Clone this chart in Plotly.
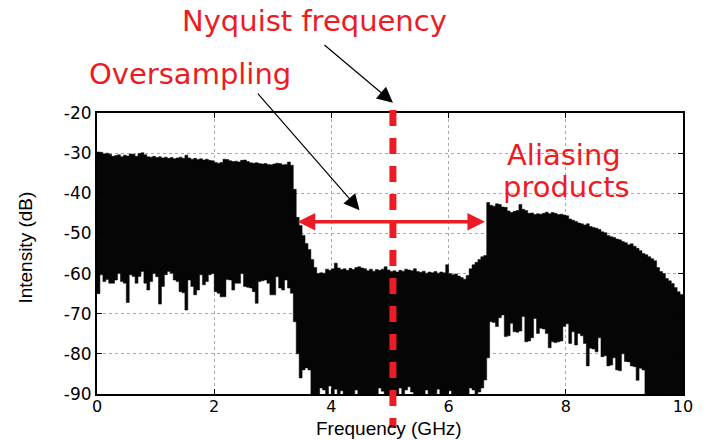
import plotly.graph_objects as go

freq_ghz = [round(0.05 * i, 2) for i in range(201)]

# upper envelope of the measured spectrum (dB)
upper_db = [
    -29.7, -29.8, -30.2, -30.0, -30.3, -30.8, -30.6, -30.4, -30.9, -30.5,
    -30.7, -30.2, -30.3, -30.8, -30.1, -29.9, -30.4, -30.9, -31.0, -30.8,
    -31.1, -30.9, -31.2, -31.0, -31.3, -31.1, -31.4, -31.2, -31.0, -31.3,
    -30.5, -31.2, -31.5, -31.3, -31.6, -31.4, -31.7, -31.5, -31.8, -31.9,
    -32.3, -32.5, -32.3, -31.5, -31.6, -31.9, -32.1, -32.0, -32.2, -31.8,
    -31.7, -32.1, -32.4, -32.5, -32.4, -32.6, -32.7, -32.6, -32.8, -32.9,
    -32.7, -32.5, -32.6, -32.9, -32.8, -32.2, -33.0, -39.0, -46.0, -48.0,
    -50.5, -52.5, -54.0, -56.5, -58.5, -60.0, -59.8, -59.9, -58.9, -59.2,
    -58.8, -57.4, -58.6, -59.0, -58.8, -59.2, -58.7, -59.0, -58.5, -58.3,
    -58.6, -58.8, -59.3, -58.9, -59.4, -59.0, -59.2, -58.9, -58.3, -59.1,
    -59.5, -59.3, -59.6, -59.2, -59.4, -58.9, -59.1, -59.3, -58.8, -59.5,
    -59.7, -59.4, -59.9, -59.6, -59.8, -59.5, -59.9, -59.6, -59.8, -57.8,
    -60.0, -60.3, -60.1, -60.6, -61.0, -61.4, -60.5, -58.8, -57.8, -57.2,
    -56.5, -55.8, -55.5, -42.3, -43.0, -43.2, -42.6, -42.8, -43.4, -43.5,
    -44.4, -44.8, -44.5, -44.3, -42.8, -44.0, -44.3, -45.0, -44.9, -45.3,
    -45.1, -45.2, -45.0, -44.7, -45.1, -44.8, -45.0, -45.3, -45.2, -45.4,
    -45.6, -46.4, -46.7, -47.0, -47.4, -47.6, -47.9, -47.6, -48.3, -48.5,
    -48.7, -49.0, -49.6, -49.8, -50.5, -50.8, -51.0, -51.4, -51.6, -52.0,
    -52.3, -52.8, -52.6, -53.2, -53.7, -54.3, -55.0, -55.3, -55.8, -56.3,
    -56.8, -58.5, -59.5, -60.0, -61.2, -61.8, -62.5, -63.5, -64.5, -65.2,
]

# lower envelope of the measured spectrum (dB); values below -90 run off the axis
lower_db = [
    -65.0, -60.3, -62.0, -61.5, -62.4, -62.4, -61.6, -60.0, -62.0, -62.4,
    -67.2, -60.3, -60.7, -62.4, -60.7, -59.5, -62.4, -64.1, -62.0, -60.0,
    -60.8, -67.6, -63.2, -60.3, -59.5, -59.9, -61.6, -62.0, -64.5, -64.8,
    -69.1, -61.6, -63.2, -65.3, -64.1, -60.3, -62.8, -62.0, -60.3, -60.0,
    -64.5, -64.9, -65.8, -65.8, -61.5, -61.6, -64.1, -62.4, -62.4, -60.0,
    -63.2, -63.4, -63.6, -64.5, -67.4, -62.0, -61.8, -61.6, -62.4, -65.3,
    -65.3, -60.8, -63.6, -64.1, -61.6, -63.6, -64.9, -72.0, -80.0, -86.0,
    -84.0, -83.5, -84.0, -95.0, -95.0, -95.0, -88.5, -89.0, -95.0, -88.0,
    -95.0, -88.8, -95.0, -89.2, -95.0, -95.0, -95.0, -95.0, -89.0, -95.0,
    -95.0, -95.0, -95.0, -95.0, -95.0, -95.0, -88.5, -89.3, -95.0, -95.0,
    -95.0, -95.0, -95.0, -88.5, -95.0, -89.0, -88.2, -89.5, -95.0, -95.0,
    -95.0, -95.0, -89.0, -95.0, -95.0, -95.0, -88.8, -95.0, -95.0, -95.0,
    -89.2, -95.0, -95.0, -95.0, -95.0, -95.0, -95.0, -88.5, -89.0, -95.0,
    -89.5, -88.5, -86.5, -81.0, -72.0, -72.2, -73.2, -71.0, -70.3, -75.7,
    -75.5, -72.4, -74.5, -74.6, -74.3, -70.7, -77.0, -76.8, -76.0, -71.2,
    -74.9, -73.6, -73.8, -74.9, -78.5, -77.0, -77.2, -77.0, -76.8, -73.2,
    -72.5, -77.4, -74.5, -77.8, -74.9, -75.5, -77.4, -83.0, -78.6, -78.8,
    -79.5, -76.0, -80.7, -80.5, -83.0, -82.8, -81.0, -84.0, -84.2, -80.0,
    -81.9, -82.0, -83.0, -83.2, -86.6, -83.6, -84.0, -95.0, -95.0, -95.0,
    -95.0, -95.0, -95.0, -95.0, -95.0, -95.0, -95.0, -95.0, -95.0, -95.0,
]

x_ticks = [0, 2, 4, 6, 8, 10]
y_ticks = [-90, -80, -70, -60, -50, -40, -30, -20]
x_ticktext = [str(v) for v in x_ticks]
y_ticktext = [str(v) for v in y_ticks]  # plain hyphen-minus like the original

nyquist_ghz = 5.05
arrow_db = -47.1
arrow_from_ghz, arrow_to_ghz = 3.40, 6.62
oversampling_tip = (4.48, -44.2)

RED = "#ec1c24"
FONT = "DejaVu Sans"

upper_plot = upper_db + [upper_db[-1]]
lower_plot = lower_db + [lower_db[-1]]

fig = go.Figure()
fig.add_trace(go.Scatter(x=freq_ghz, y=lower_plot, mode="lines",
                         line=dict(shape="hv", width=0.5, color="#050505"),
                         hoverinfo="skip"))
fig.add_trace(go.Scatter(x=freq_ghz, y=upper_plot, mode="lines",
                         line=dict(shape="hv", width=0.5, color="#050505"),
                         fill="tonexty", fillcolor="#050505", hoverinfo="skip"))

axis_common = dict(
    ticks="inside", ticklen=5, tickwidth=1, tickcolor="black",
    showline=True, linecolor="black", linewidth=2, mirror="ticks",
    showgrid=True, gridcolor="#a8a8a8", griddash="dot", gridwidth=1,
    zeroline=False,
)
fig.update_xaxes(range=[0, 10], tickvals=x_ticks, ticktext=x_ticktext,
                 tickfont=dict(family=FONT, size=16, color="black"),
                 ticklabelstandoff=-3, **axis_common)
fig.update_yaxes(range=[-90, -20], tickvals=y_ticks, ticktext=y_ticktext,
                 tickfont=dict(family=FONT, size=17, color="black"), **axis_common)

x_range = 10.0
fig.add_shape(type="line", xref="paper", yref="paper",
              x0=nyquist_ghz / x_range, x1=nyquist_ghz / x_range,
              y0=1.0107, y1=-0.121,
              line=dict(color=RED, width=7, dash="16px,12px"))

ann = []
ann.append(dict(text="Nyquist frequency", xref="paper", yref="paper", x=0.3706, y=1.327,
                xanchor="center", yanchor="middle", showarrow=False,
                font=dict(family=FONT, size=29, color=RED)))
ann.append(dict(text="Oversampling", xref="paper", yref="paper", x=0.159, y=1.139,
                xanchor="center", yanchor="middle", showarrow=False,
                font=dict(family=FONT, size=29, color=RED)))
ann.append(dict(text="Aliasing", xref="paper", yref="paper", x=0.797, y=0.8505,
                xanchor="center", yanchor="middle", showarrow=False,
                font=dict(family=FONT, size=29, color=RED)))
ann.append(dict(text="products", xref="paper", yref="paper", x=0.802, y=0.738,
                xanchor="center", yanchor="middle", showarrow=False,
                font=dict(family=FONT, size=29, color=RED)))
# black pointer arrows
ann.append(dict(text="", xref="paper", yref="paper", x=nyquist_ghz / x_range, y=1.0367,
                ax=-70, ay=-59, showarrow=True, arrowhead=2, arrowsize=2.6,
                arrowwidth=1.2, arrowcolor="black"))
ann.append(dict(text="", xref="x", yref="y", x=oversampling_tip[0], y=oversampling_tip[1],
                ax=-103, ay=-118, showarrow=True, arrowhead=2, arrowsize=2.6,
                arrowwidth=1.2, arrowcolor="black"))
# red double-headed arrow
ann.append(dict(text="", xref="x", yref="y", x=arrow_to_ghz, y=arrow_db,
                axref="x", ayref="y", ax=arrow_from_ghz, ay=arrow_db,
                showarrow=True, arrowside="end+start", arrowhead=2, startarrowhead=2,
                arrowsize=1.0, startarrowsize=1.0, arrowwidth=3.5, arrowcolor=RED))
# axis titles
ann.append(dict(text="Intensity (dB)", xref="paper", yref="paper", x=-0.1218, y=0.5196,
                xanchor="center", yanchor="middle", showarrow=False, textangle=-90,
                font=dict(family="Liberation Sans", size=19, color="black")))
ann.append(dict(text="Frequency (GHz)", xref="paper", yref="paper", x=0.499, y=-0.163,
                xanchor="center", yanchor="bottom", showarrow=False, borderpad=0,
                font=dict(family="Liberation Sans", size=19, color="black")))

fig.update_layout(width=705, height=440, margin=dict(l=97, r=17, t=113, b=46),
                  plot_bgcolor="white", paper_bgcolor="white", showlegend=False,
                  annotations=ann)

fig.write_html("out.html")
